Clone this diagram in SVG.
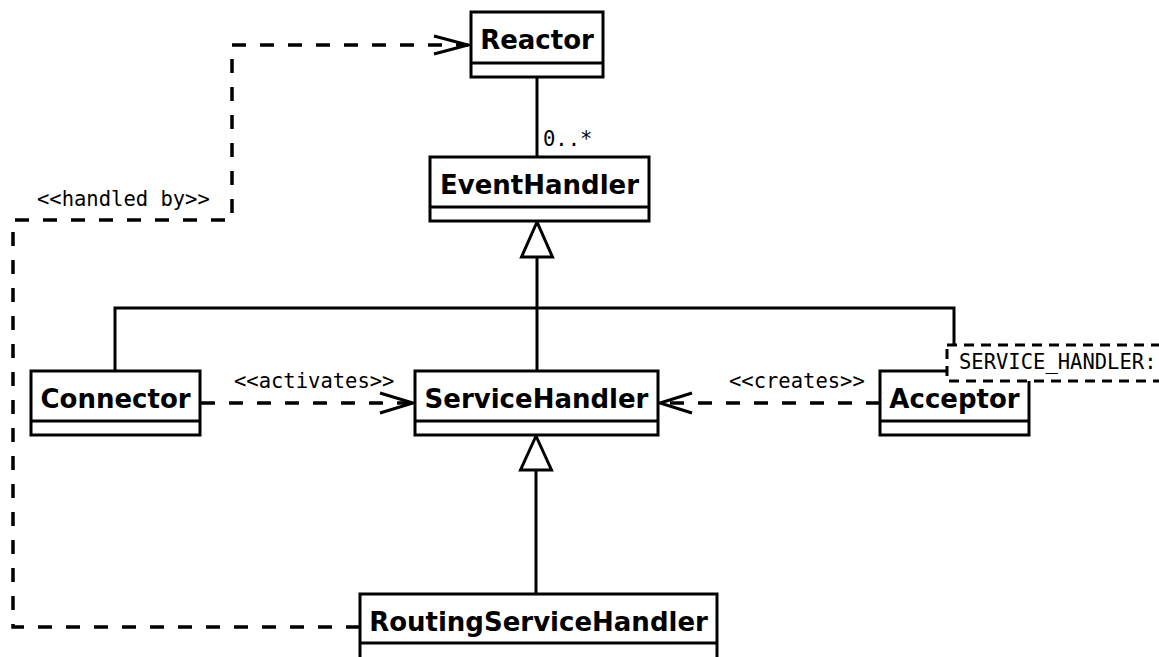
<svg xmlns="http://www.w3.org/2000/svg" width="1159" height="657" viewBox="0 0 1159 657">
  <style>
    .box { fill: #fff; stroke: #000; stroke-width: 3; }
    .div { stroke: #000; stroke-width: 3; }
    .name { font-family: "DejaVu Sans", "Liberation Sans", sans-serif; font-weight: bold; font-size: 26px; text-anchor: middle; fill: #000; }
    .lbl { font-family: "DejaVu Sans Mono", "Liberation Mono", monospace; font-size: 20.5px; fill: #000; }
    .solid { fill: none; stroke: #000; stroke-width: 3; }
    .dash { fill: none; stroke: #000; stroke-width: 3.5; stroke-dasharray: 14 14; }
    .open { fill: none; stroke: #000; stroke-width: 3; }
    .tri { fill: #fff; stroke: #000; stroke-width: 3; stroke-linejoin: miter; }
    .tpl { fill: #fff; stroke: #000; stroke-width: 3; stroke-dasharray: 10 7; }
  </style>

  <!-- connectors -->
  <g id="connectors">
    <!-- Reactor 0..* EventHandler -->
    <line class="solid" x1="537" y1="77" x2="537" y2="157"/>
    <text class="lbl" x="543" y="146">0..*</text>

    <!-- ServiceHandler / Connector / Acceptor generalize EventHandler -->
    <path class="solid" d="M537 257 V371 M115 371 V308 H954 V371"/>
    <polygon class="tri" points="537,222 521.5,257 552.5,257"/>

    <!-- RoutingServiceHandler generalizes ServiceHandler -->
    <line class="solid" x1="536" y1="470" x2="536" y2="594"/>
    <polygon class="tri" points="536,436 520.5,470 551.5,470"/>

    <!-- Connector activates ServiceHandler -->
    <line class="dash" x1="201" y1="403" x2="413" y2="403"/>
    <polyline class="open" points="380,393 413,403 380,413"/>
    <text class="lbl" x="234" y="388">&lt;&lt;activates&gt;&gt;</text>

    <!-- Acceptor creates ServiceHandler -->
    <line class="dash" x1="880" y1="403" x2="660" y2="403"/>
    <polyline class="open" points="692,393 660,403 692,413"/>
    <text class="lbl" x="729" y="388">&lt;&lt;creates&gt;&gt;</text>

    <!-- RoutingServiceHandler handled by Reactor -->
    <path class="dash" d="M360 627 H13 V220 H232 V45 H468"/>
    <polyline class="open" points="434,36 468,45 434,54"/>
    <text class="lbl" x="37" y="206">&lt;&lt;handled by&gt;&gt;</text>
  </g>

  <!-- classes -->
  <g id="reactor">
    <rect class="box" x="471" y="12" width="132" height="65"/>
    <line class="div" x1="471" y1="63" x2="603" y2="63"/>
    <text class="name" x="537" y="49">Reactor</text>
  </g>

  <g id="event-handler">
    <rect class="box" x="430" y="157" width="219" height="64"/>
    <line class="div" x1="430" y1="207" x2="649" y2="207"/>
    <text class="name" x="539.5" y="194">EventHandler</text>
  </g>

  <g id="connector">
    <rect class="box" x="31" y="371" width="169" height="64"/>
    <line class="div" x1="31" y1="421" x2="200" y2="421"/>
    <text class="name" x="115.5" y="408">Connector</text>
  </g>

  <g id="service-handler">
    <rect class="box" x="415" y="371" width="243" height="64"/>
    <line class="div" x1="415" y1="421" x2="658" y2="421"/>
    <text class="name" x="536.5" y="408">ServiceHandler</text>
  </g>

  <g id="acceptor">
    <rect class="box" x="880" y="371" width="149" height="64"/>
    <line class="div" x1="880" y1="421" x2="1029" y2="421"/>
    <text class="name" x="954.5" y="408">Acceptor</text>
    <!-- template parameter -->
    <rect class="tpl" x="947" y="345" width="260" height="36"/>
    <text class="lbl" x="959" y="369">SERVICE_HANDLER:</text>
  </g>

  <g id="routing-service-handler">
    <rect class="box" x="360" y="594" width="357" height="80"/>
    <line class="div" x1="360" y1="643" x2="717" y2="643"/>
    <text class="name" x="538.5" y="631">RoutingServiceHandler</text>
  </g>
</svg>
